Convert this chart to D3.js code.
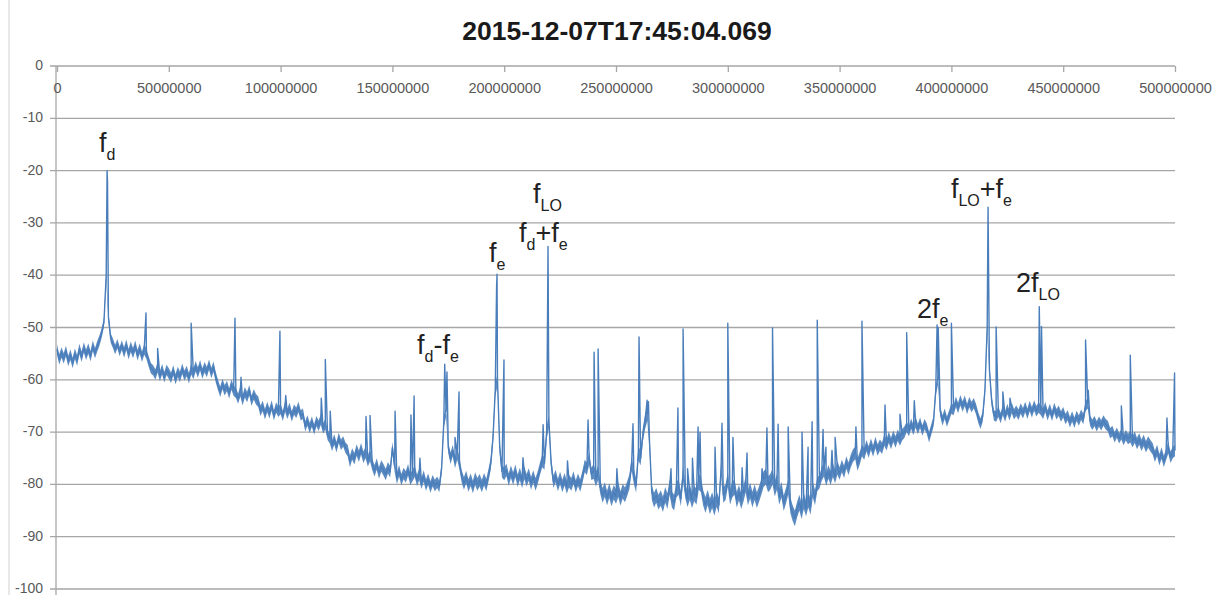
<!DOCTYPE html>
<html>
<head>
<meta charset="utf-8">
<script src="https://cdn.jsdelivr.net/npm/d3@7/dist/d3.min.js"></script>
<style>
  html, body { margin: 0; padding: 0; background: #fff; }
  svg { display: block; font-family: "Liberation Sans", Arial, sans-serif; }
</style>
</head>
<body>
<svg id="chart" width="1222" height="595"></svg>
<script>
// ─── Spectrum capture ───
const title = '2015-12-07T17:45:04.069';

// frequency axis (Hz) and level axis (dB)
const xTicks = [0, 50000000, 100000000, 150000000, 200000000, 250000000,
  300000000, 350000000, 400000000, 450000000, 500000000];
const yTicks = [0, -10, -20, -30, -40, -50, -60, -70, -80, -90, -100];

// noise floor, one reading per MHz from 0 to 500 MHz (dB)
const floorDb = [
  -54.2, -56.1, -54.8, -55.9, -54.5, -56.4, -55.2, -56.8, -55.0, -56.3,
  -54.1, -55.6, -53.8, -55.2, -54.0, -55.5, -53.5, -54.9, -53.6, -52.5,
  -51.0, -49.0, -40.0, -48.0, -52.0, -53.0, -54.2, -53.1, -54.6, -53.4,
  -54.8, -53.3, -55.1, -53.7, -54.9, -53.5, -55.3, -54.0, -55.6, -54.2,
  -55.0, -56.5, -57.8, -58.2, -59.0, -57.6, -59.3, -58.0, -59.5, -58.1,
  -58.8, -59.6, -58.2, -59.9, -58.5, -59.4, -57.9, -59.2, -58.3, -59.7,
  -58.0, -58.9, -57.4, -58.6, -57.2, -58.8, -57.6, -58.5, -57.1, -58.7,
  -57.5, -59.5, -61.0, -62.3, -60.8, -62.0, -61.2, -62.6, -60.9, -62.1,
  -62.5, -63.6, -62.2, -63.9, -62.4, -63.3, -62.0, -64.0, -62.8, -63.7,
  -64.2, -65.9, -65.0, -66.6, -65.2, -66.4, -64.9, -66.8, -65.3, -66.1,
  -65.6, -66.9, -65.1, -66.5, -65.4, -67.0, -65.7, -66.3, -65.2, -66.8,
  -66.5, -68.9, -67.8, -69.2, -68.0, -69.5, -67.9, -68.8, -67.6, -69.3,
  -68.5, -70.5, -71.2, -72.6, -71.4, -72.9, -71.1, -72.4, -71.8, -73.0,
  -73.5, -75.6, -74.2, -75.1, -73.4, -74.6, -73.2, -74.8, -73.9, -75.5,
  -74.5, -76.2, -77.4, -76.1, -77.8, -76.5, -77.2, -78.1, -76.8, -77.6,
  -73.0, -76.5, -78.8, -77.4, -79.1, -77.9, -78.6, -77.2, -79.0, -78.3,
  -77.5, -79.2, -78.1, -79.8, -78.4, -80.1, -79.0, -80.5, -79.3, -80.2,
  -79.6, -80.4, -77.0, -68.0, -66.0, -73.0, -75.0, -73.5, -75.8, -74.2,
  -76.0, -78.5, -79.8, -78.6, -80.2, -79.1, -80.5, -78.9, -80.0, -79.2,
  -80.3, -79.0, -80.1, -78.2, -76.0, -71.0, -62.0, -60.0, -73.0, -77.5,
  -78.0, -77.2, -79.1, -77.6, -78.9, -77.4, -79.3, -78.0, -79.5, -77.8,
  -79.2, -78.1, -79.8, -78.5, -80.0, -78.7, -77.0, -75.5, -76.0, -70.0,
  -68.0, -76.0, -79.5, -78.4, -80.1, -78.8, -80.3, -79.0, -80.6, -79.4,
  -80.0, -78.7, -80.4, -79.1, -80.2, -78.6, -76.5, -77.0, -75.0, -78.0,
  -77.5, -79.0, -77.8, -80.5, -82.1, -81.0, -82.6, -81.2, -82.8, -81.5,
  -82.3, -81.0, -82.7, -81.3, -82.0, -80.8, -79.5, -76.0, -78.5, -80.2,
  -74.0, -75.0, -70.5, -68.0, -66.5, -72.0, -81.5, -83.0, -82.1, -83.4,
  -82.6, -83.8, -82.0, -83.2, -80.5, -82.9, -83.5, -81.0, -80.5, -82.7,
  -78.0, -81.2, -82.8, -81.5, -83.0, -81.7, -82.4, -79.5, -80.0, -82.6,
  -83.9, -82.5, -84.2, -83.0, -84.5, -82.8, -84.0, -77.0, -82.0, -81.5,
  -79.0, -82.4, -81.0, -80.5, -82.9, -81.6, -83.2, -81.8, -80.0, -82.5,
  -81.2, -82.9, -81.5, -83.0, -81.8, -80.5, -79.0, -78.5, -80.0, -79.5,
  -78.5, -80.8, -79.5, -82.4, -81.0, -83.6, -82.2, -80.5, -84.0, -85.5,
  -86.5, -84.8, -83.5, -85.1, -83.2, -84.6, -82.9, -84.3, -81.0, -82.5,
  -80.0, -79.5, -78.0, -77.2, -79.0, -77.6, -78.8, -77.3, -78.5, -76.8,
  -77.9, -76.5, -77.6, -75.8, -77.0, -75.5, -74.5, -74.0, -76.2, -75.0,
  -73.5, -74.2, -72.6, -73.8, -72.3, -73.6, -72.0, -73.4, -72.5, -73.1,
  -71.5, -72.4, -71.0, -72.2, -70.8, -71.9, -70.6, -71.5, -70.5, -70.0,
  -69.0, -69.8, -68.4, -69.6, -68.1, -69.4, -68.2, -69.7, -68.5, -69.3,
  -71.0, -69.5, -68.0, -62.0, -60.0, -66.0, -67.8, -66.5, -68.0, -66.8,
  -65.5, -65.8, -64.2, -65.4, -63.9, -65.1, -64.0, -65.6, -64.3, -65.2,
  -64.5, -65.6, -67.2, -68.4, -67.0, -62.0, -50.0, -58.0, -64.0, -66.8,
  -67.0, -66.1, -67.3, -65.8, -67.0, -65.6, -66.8, -65.4, -66.6, -65.9,
  -66.7, -65.5, -66.4, -65.2, -66.5, -65.0, -66.2, -64.9, -66.0, -65.3,
  -65.8, -66.5, -65.2, -66.8, -65.6, -66.9, -65.4, -66.6, -65.9, -67.0,
  -66.2, -67.5, -66.8, -68.1, -67.0, -68.2, -66.9, -67.8, -66.7, -67.5,
  -65.0, -64.5, -67.8, -68.6, -67.9, -68.9, -68.0, -68.7, -67.8, -68.5,
  -68.9, -70.2, -69.8, -71.0, -70.1, -71.2, -70.4, -71.5, -70.6, -71.3,
  -70.9, -71.8, -71.0, -72.2, -71.3, -72.5, -71.6, -72.8, -71.9, -72.6,
  -73.2, -74.6, -73.5, -75.3, -74.0, -75.6, -74.3, -73.0, -74.8, -73.9,
  -73.5
];

// half-width of the noise band, one reading per 10 MHz block (dB)
const floorSpreadDb = [
  1.0, 1.0, 0.9, 1.0, 1.0, 1.0, 1.0, 1.0, 1.0, 1.0,
  1.0, 1.0, 1.0, 1.1, 1.1, 1.1, 1.1, 1.1, 1.2, 1.2,
  1.2, 1.2, 1.2, 1.2, 1.4, 1.4, 1.4, 1.5, 1.5, 1.5,
  1.5, 1.5, 1.5, 1.5, 1.3, 1.2, 1.1, 1.1, 1.0, 1.0,
  1.0, 1.0, 1.0, 1.0, 1.0, 1.0, 1.0, 1.0, 1.1, 1.1,
  1.1
];

// narrow spurs and carriers on top of the floor
const spurMHz = [22.4, 22.6, 39.8, 45, 60, 79.6, 82.3, 99.7, 102.3, 118.2,
  120, 122.2, 138.2, 140, 151.2, 158.3, 159.7, 162.3, 173.4, 174.4,
  178, 179.8, 196.6, 196.8, 199.9, 208.4, 217.4, 219.6, 228.3, 237.5,
  240.2, 242, 250.4, 257.6, 260.3, 263.9, 264.5, 274.6, 277.7, 280,
  282, 284.2, 286.7, 287.6, 294.3, 297.4, 300, 302.3, 306.4, 308.6,
  315.3, 317.5, 320, 322.5, 327, 333.2, 335.9, 337.7, 340, 342.6,
  343.9, 346.6, 348, 357.3, 360, 370.3, 377, 380, 383.4, 393.6,
  394.1, 400, 416.4, 420, 423, 426.2, 439.3, 440.3, 460, 461.2,
  476, 480, 496.4, 499.8];
const spurDb = [-20, -22.3, -47.2, -54, -49.2, -48.2, -59.5, -50.7, -63, -63.5,
  -56.1, -66, -67, -66.8, -66, -66.7, -63.1, -75, -57, -58.5,
  -71, -62.3, -42, -39.8, -56.2, -74.9, -68.6, -34.5, -75.5, -67.7,
  -54.7, -54.1, -77, -68.4, -51.8, -63.9, -64.2, -77, -65.4, -50.3,
  -77, -75, -69, -70, -72.9, -68.3, -49.2, -71, -76.8, -74,
  -77, -69.2, -50.1, -68.5, -69, -70, -72.9, -68, -48.6, -69.5,
  -72.9, -73.5, -71, -69, -48.8, -64.8, -66.6, -51, -64, -49.5,
  -50, -49.2, -27, -49.9, -62.3, -63.5, -46, -49.8, -52.4, -62,
  -65, -55.3, -67.3, -58.7];

// peak labels, anchored in data units (MHz, dB)
const labels = [
  { parts: [['f'], ['d', 1]], mhz: 18.8, db: -16.4 },
  { parts: [['f'], ['LO', 1]], mhz: 212.9, db: -26.2 },
  { parts: [['f'], ['d', 1], ['+f'], ['e', 1]], mhz: 206.6, db: -33.7 },
  { parts: [['f'], ['e', 1]], mhz: 193.2, db: -37.5 },
  { parts: [['f'], ['d', 1], ['-f'], ['e', 1]], mhz: 161.0, db: -55.1 },
  { parts: [['f'], ['LO', 1], ['+f'], ['e', 1]], mhz: 399.8, db: -25.2 },
  { parts: [['2f'], ['LO', 1]], mhz: 428.9, db: -43.2 },
  { parts: [['2f'], ['e', 1]], mhz: 384.6, db: -48.2 }
];

const W = 1222, H = 595;
const plot = { left: 57, right: 1175, top: 66, bottom: 589 };
const gridCol = '#a6a6a6', tickText = '#595959', traceCol = '#4a7ebb';

const svg = d3.select('#chart');
svg.append('rect').attr('width', W).attr('height', H).attr('fill', '#fff');

// faint chart border on the left
svg.append('line').attr('x1', 9).attr('x2', 9).attr('y1', 0).attr('y2', H)
  .attr('stroke', '#d9d9d9').attr('stroke-width', 1.2);

const x = d3.scaleLinear().domain([0, 500000000]).range([plot.left, plot.right]);
const y = d3.scaleLinear().domain([0, -100]).range([plot.top, plot.bottom]);

svg.append('text')
  .attr('x', 617).attr('y', 40)
  .attr('text-anchor', 'middle')
  .attr('font-size', 26.5).attr('font-weight', 700).attr('fill', '#1a1a1a')
  .text(title);

// horizontal gridlines (include the 0 line, which carries the x axis)
svg.append('g').selectAll('line').data(yTicks).enter().append('line')
  .attr('x1', plot.left - 7).attr('x2', plot.right)
  .attr('y1', d => y(d)).attr('y2', d => y(d))
  .attr('stroke', gridCol).attr('stroke-width', 1.3);

// y axis
svg.append('line')
  .attr('x1', plot.left - 1).attr('x2', plot.left - 1)
  .attr('y1', plot.top).attr('y2', H)
  .attr('stroke', gridCol).attr('stroke-width', 1.3);

svg.append('g').selectAll('text').data(yTicks).enter().append('text')
  .attr('x', 43).attr('y', d => y(d) + 4)
  .attr('text-anchor', 'end')
  .attr('font-size', 14).attr('fill', tickText)
  .text(d => d);

// x axis along the 0 dB line, ticks hanging down
const xAxis = d3.axisBottom(x).tickValues(xTicks).tickSize(6).tickPadding(11)
  .tickFormat(d3.format('d'));
const gx = svg.append('g').attr('transform', `translate(0,${plot.top})`).call(xAxis);
gx.select('.domain').remove();
gx.selectAll('.tick line').attr('stroke', gridCol).attr('stroke-width', 1.3);
gx.selectAll('.tick text')
  .attr('font-size', 14.5).attr('fill', tickText)
  .attr('font-family', '"Liberation Sans", Arial, sans-serif');

// noise band behind the trace
const floorPts = floorDb.map((v, i) => ({ f: i * 1e6, v, s: floorSpreadDb[Math.floor(i / 10)] }));
const band = d3.area()
  .x(d => x(d.f))
  .y0(d => y(d.v - d.s))
  .y1(d => y(d.v + d.s));
svg.append('path')
  .datum(floorPts)
  .attr('d', band)
  .attr('fill', traceCol)
  .attr('opacity', 0.9);

// spectrum trace
const pts = floorPts.map(d => ({ f: d.f, v: d.v }))
  .concat(spurMHz.map((m, i) => ({ f: m * 1e6, v: spurDb[i] })))
  .sort((a, b) => a.f - b.f);

const line = d3.line().x(d => x(d.f)).y(d => y(d.v));
svg.append('path')
  .datum(pts)
  .attr('d', line)
  .attr('fill', 'none')
  .attr('stroke', traceCol)
  .attr('stroke-width', 1.4)
  .attr('stroke-linejoin', 'round');

// peak labels with subscripts
labels.forEach(l => {
  const t = svg.append('text')
    .attr('x', x(l.mhz * 1e6)).attr('y', y(l.db))
    .attr('font-size', 27).attr('fill', '#222');
  let down = false;
  l.parts.forEach(([s, sub]) => {
    const sp = t.append('tspan').text(s);
    if (sub && !down) { sp.attr('dy', 8).attr('font-size', 16); down = true; }
    else if (sub) { sp.attr('font-size', 16); }
    else if (down) { sp.attr('dy', -8); down = false; }
  });
});
</script>
</body>
</html>
